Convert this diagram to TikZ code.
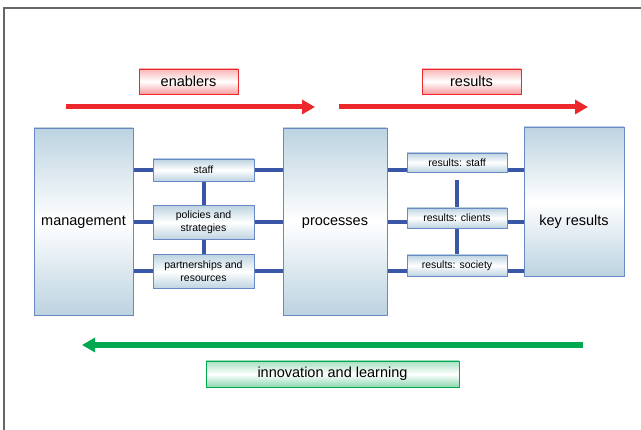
\documentclass[tikz,border=0pt]{standalone}
\usepackage{fontspec}
\setmainfont{Liberation Sans}
\usetikzlibrary{arrows.meta,backgrounds}

\definecolor{boxfill}{RGB}{188,211,224}
\definecolor{boxedge}{RGB}{104,136,198}
\definecolor{linkblue}{RGB}{58,86,166}
\definecolor{arrred}{RGB}{236,40,44}
\definecolor{arrgreen}{RGB}{0,168,80}

\begin{document}
\begin{tikzpicture}[x=1pt, y=-1pt,
    box/.style={draw=boxedge, line width=0.8pt, top color=boxfill, bottom color=boxfill, middle color=white,
        inner sep=0pt, align=center, font=\fontsize{10.5}{12.7}\selectfont},
    bigbox/.style={box, text height=7.5pt, text depth=0pt, font=\fontsize{14.5}{17}\selectfont},
    tag/.style={draw=#1, line width=0.8pt, top color=#1!35, bottom color=#1!45, middle color=white,
        inner sep=0pt, minimum height=25pt, font=\fontsize{14.5}{17}\selectfont},
    link/.style={draw=linkblue, line width=4pt},
    flow/.style={line width=5pt, -{Triangle[length=13pt,width=14pt]}}]
    \useasboundingbox (0,0) rectangle (641,430);
    \draw[gray!80!black, line width=1.5pt] (4,430) -- (4,8) -- (641,8);

    % main blocks
    \node[bigbox, minimum width=99pt, minimum height=187pt] (mgmt) at (83.5,221.5) {management};
    \node[bigbox, minimum width=104pt, minimum height=187pt] (proc) at (335,221.5) {processes};
    \node[box, minimum width=100pt, minimum height=149pt] (keyres) at (574,201.5) {};
    \node[text height=7.5pt, text depth=0pt, inner sep=0pt, font=\fontsize{14.5}{17}\selectfont] (keytext) at (574,222) {key results};

    % enablers and results
    \node[box, minimum width=101pt, minimum height=22pt] (staff) at (203.5,170) {staff};
    \node[box, minimum width=101pt, minimum height=34pt] (policies) at (203.5,222.5) {policies and\\strategies};
    \node[box, minimum width=101pt, minimum height=34pt] (partners) at (203.5,271.5) {partnerships and\\resources};
    \node[box, minimum width=100pt, minimum height=19pt] (rstaff) at (457,162.5) {results: staff};
    \node[box, minimum width=100pt, minimum height=20pt] (rclients) at (457,218) {results: clients};
    \node[box, minimum width=100pt, minimum height=21pt] (rsociety) at (457,265.5) {results: society};
    \coordinate (rtop) at (457,180);

    % links
    \begin{scope}[on background layer]
        \draw[link] (staff) -- (partners);
        \draw[link] (rtop) -- (rsociety);
        \foreach \b in {staff,policies,partners} {
            \draw[link] (mgmt.east |- \b) -- (proc.west |- \b);
            \draw[link] (proc.east |- \b) -- (keyres.west |- \b);
        }
    \end{scope}

    % arrows
    \node[tag=arrred, minimum width=99pt] (enab) at (188.5,81.5) {enablers};
    \node[tag=arrred, minimum width=99pt] (res) at (471.5,81.5) {results};
    \node[tag=arrgreen, minimum width=253pt, minimum height=26pt] (innov) at (332.5,374) {innovation and learning};
    \coordinate (e1) at (66,107); \coordinate (e2) at (315,107);
    \coordinate (r1) at (339,107); \coordinate (r2) at (588,107);
    \coordinate (g1) at (583,345); \coordinate (g2) at (82,345);
    \draw[flow, arrred] (e1) -- (e2);
    \draw[flow, arrred] (r1) -- (r2);
    \draw[flow, arrgreen, line width=6pt] (g1) -- (g2);
\end{tikzpicture}
\end{document}
